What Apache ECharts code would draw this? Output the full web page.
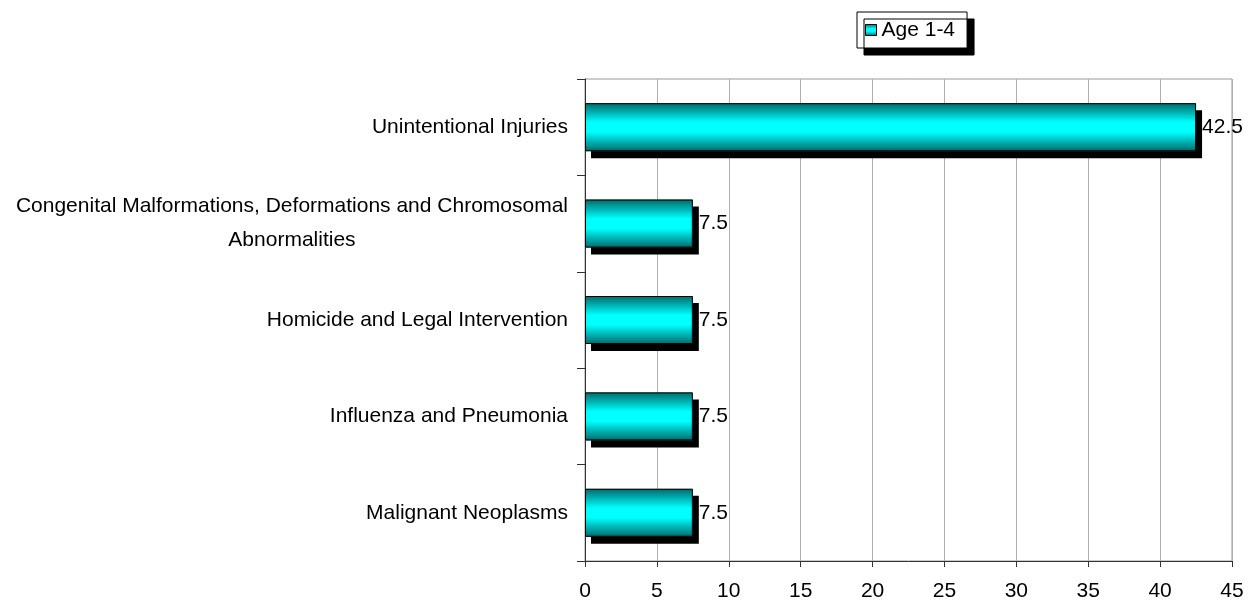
<!DOCTYPE html>
<html>
<head>
<meta charset="utf-8">
<script src="https://cdn.jsdelivr.net/npm/echarts@6/dist/echarts.min.js"></script>
<style>
  html, body { margin: 0; padding: 0; background: #fff; }
  #chart { width: 1251px; height: 603px; }
</style>
</head>
<body>
<div id="chart"></div>
<script>
// categories top to bottom
const categories = [
  "Unintentional Injuries",
  "Congenital Malformations, Deformations and Chromosomal\nAbnormalities",
  "Homicide and Legal Intervention",
  "Influenza and Pneumonia",
  "Malignant Neoplasms"
];
const values = [42.5, 7.5, 7.5, 7.5, 7.5];
const seriesName = "Age 1-4";

const chart = echarts.init(document.getElementById("chart"));

// cyan bar with dark teal edges
const barFill = new echarts.graphic.LinearGradient(0, 0, 0, 1, [
  { offset: 0, color: "#006a6a" },
  { offset: 0.4, color: "#00ffff" },
  { offset: 0.6, color: "#00ffff" },
  { offset: 1, color: "#006a6a" }
]);

const option = {
  animation: false,
  textStyle: { fontFamily: "Liberation Sans, Arial, sans-serif" },
  legend: {
    left: 857,
    top: 12,
    padding: [6, 12, 6, 8],
    itemWidth: 11,
    itemHeight: 11,
    itemGap: 6,
    icon: "rect",
    backgroundColor: "#fff",
    borderColor: "#000",
    borderWidth: 1,
    borderRadius: 0,
    shadowColor: "#000",
    shadowOffsetX: 7,
    shadowOffsetY: 7,
    shadowBlur: 0,
    textStyle: { fontSize: 21, color: "#000", lineHeight: 24 },
    itemStyle: { borderColor: "#000", borderWidth: 1, shadowBlur: 0, shadowOffsetX: 0, shadowOffsetY: 0, shadowColor: "transparent" },
    data: [seriesName]
  },
  grid: {
    left: 585,
    right: 19,
    top: 79,
    bottom: 42,
    show: true,
    borderColor: "#999",
    borderWidth: 1
  },
  xAxis: {
    type: "value",
    min: 0,
    max: 45,
    interval: 5,
    axisLine: { show: true, lineStyle: { color: "#333" } },
    axisTick: { show: true, length: 6, lineStyle: { color: "#333" } },
    axisLabel: { fontSize: 21, color: "#000", margin: 20 },
    splitLine: { show: true, lineStyle: { color: "#b0b0b0" } }
  },
  yAxis: {
    type: "category",
    inverse: true,
    data: categories,
    axisLine: { show: true, lineStyle: { color: "#333" } },
    axisTick: { show: true, length: 8, inside: false, alignWithLabel: false, lineStyle: { color: "#333" } },
    axisLabel: {
      fontSize: 21,
      color: "#000",
      margin: 17,
      lineHeight: 34,
      formatter: function (v) {
        return v.split("\n").map(function (s) { return "{c|" + s + "}"; }).join("\n");
      },
      rich: { c: { align: "center", fontSize: 21, color: "#000", lineHeight: 34 } }
    },
    splitLine: { show: false }
  },
  series: [
    {
      name: seriesName,
      type: "bar",
      data: values,
      barWidth: 48,
      itemStyle: {
        color: barFill,
        borderWidth: 0,
        shadowColor: "#000",
        shadowOffsetX: 6,
        shadowOffsetY: 7,
        shadowBlur: 0
      },
      label: {
        show: true,
        position: "right",
        distance: 6,
        fontSize: 21,
        color: "#000"
      }
    },
    {
      // black outline drawn over the gradient bars
      name: "outline",
      type: "bar",
      data: values,
      barWidth: 48,
      barGap: "-100%",
      silent: true,
      itemStyle: {
        color: "transparent",
        borderColor: "#000",
        borderWidth: 1
      }
    }
  ]
};

chart.setOption(option);
</script>
</body>
</html>
